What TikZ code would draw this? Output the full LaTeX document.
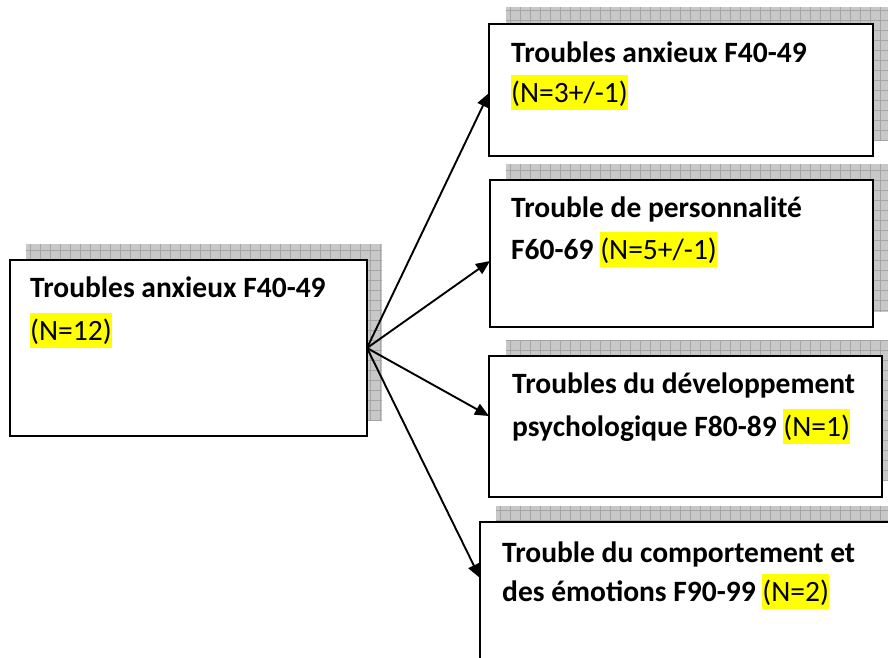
\documentclass[tikz,border=0pt]{standalone}
\usepackage{fontspec}
\setmainfont{Carlito}
\usetikzlibrary{arrows.meta}
\definecolor{shadowfill}{RGB}{200,200,200}
\definecolor{shadowline}{RGB}{165,165,165}
\definecolor{hlyellow}{RGB}{255,255,0}
\newcommand\hlt[1]{{\setlength{\fboxsep}{0pt}\colorbox{hlyellow}{\mdseries\rule[-8pt]{0pt}{35pt}#1}}}
\newcommand\shadowrect[2]{\fill[shadowfill] #1 rectangle #2; \draw[shadowline, line width=0.6pt, step=10pt] #1 grid #2;}
\begin{document}
\begin{tikzpicture}[x=1pt,y=-1pt,
  box/.style={draw=black, fill=white, line width=2pt, rectangle, inner sep=0pt, outer sep=0pt, anchor=north west},
  txt/.style={anchor=base west, inner sep=0pt, font=\fontsize{29.5}{34}\selectfont\bfseries},
  conn/.style={line width=1.9pt, -{Triangle[length=14pt,width=12pt]}}]
\useasboundingbox (0,0) rectangle (888,657);
\clip (0,0) rectangle (888,657);
\fill[white] (0,0) rectangle (888,657);
% shadows
\shadowrect{(26,244)}{(382,421)}
\shadowrect{(506,7)}{(890,140)}
\shadowrect{(506,164)}{(890,312)}
\shadowrect{(506,340)}{(890,481)}
\shadowrect{(496,506)}{(890,700)}
% boxes
\node[box, minimum width=357pt, minimum height=176pt] (L) at (10,260) {};
\node[box, minimum width=384pt, minimum height=132pt] (b1) at (489,24) {};
\node[box, minimum width=383pt, minimum height=147pt] (b2) at (490,180) {};
\node[box, minimum width=393pt, minimum height=141pt] (b3) at (489,356) {};
\node[box, minimum width=420pt, minimum height=200pt] (b4) at (480,522) {};
% texts
\node[txt] (La) at (30,297) {Troubles anxieux F40-49};
\node[txt] (Lb) at (30,340) {\hlt{(N=12)}};
\node[txt] (b1a) at (511,62) {Troubles anxieux F40-49};
\node[txt] (b1b) at (511,102) {\hlt{(N=3+/-1)}};
\node[txt] (b2a) at (511,217) {Trouble de personnalité};
\node[txt] (b2b) at (511,259) {F60-69 \hlt{(N=5+/-1)}};
\node[txt] (b3a) at (512,393) {Troubles du développement};
\node[txt] (b3b) at (512,436) {psychologique F80-89 \hlt{(N=1)}};
\node[txt] (b4a) at (502,562) {Trouble du comportement et};
\node[txt] (b4b) at (502,601) {des émotions F90-99 \hlt{(N=2)}};
% connectors
\coordinate (t4) at ([yshift=-56pt]b4.north west);
\draw[conn] (L.east) -- ([yshift=-3pt]b1.west);
\draw[conn] (L.east) -- ([yshift=-7.5pt]b2.west);
\draw[conn] (L.east) -- ([yshift=10.5pt]b3.west);
\draw[conn] (L.east) -- (t4);
\end{tikzpicture}
\end{document}
